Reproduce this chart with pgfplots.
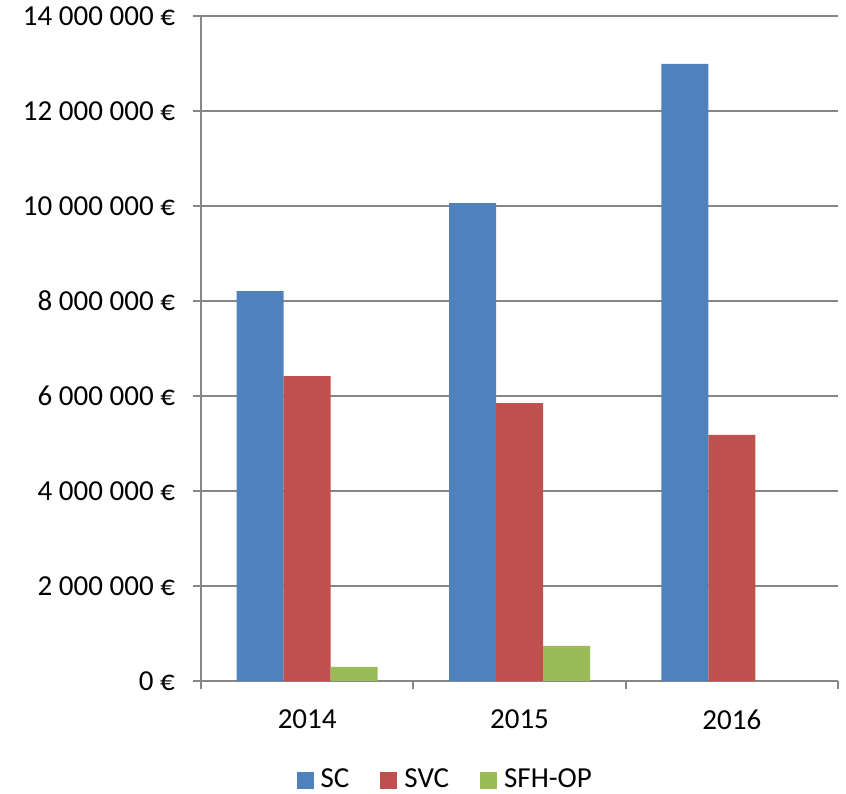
\documentclass[border=0pt]{standalone}
\usepackage{fontspec}
\setmainfont{Carlito}
\usepackage{pgfplots}
\pgfplotsset{compat=1.18}
\definecolor{scblue}{HTML}{4F81BD}
\definecolor{svcred}{HTML}{C0504D}
\definecolor{sfhgreen}{HTML}{9BBB59}
\definecolor{gridgray}{HTML}{868686}
\begin{document}
\fontsize{14.5}{17}\selectfont
\begin{tikzpicture}
\begin{axis}[
  at={(0,0)}, anchor=south west,
  scale only axis, width=318.5pt, height=332.5pt,
  xmin=-0.5, xmax=2.5, ymin=0, ymax=14000000,
  ybar=0pt, bar width=23.5pt,
  xtick={0,1,2}, xticklabels={2014,2015,2016},
  minor xtick={-0.5,0.5,1.5,2.5},
  major x tick style={draw=none},
  minor x tick style={gridgray, line width=1pt},
  ytick={0,2000000,4000000,6000000,8000000,10000000,12000000,14000000},
  yticklabels={0 €,2 000 000 €,4 000 000 €,6 000 000 €,8 000 000 €,10 000 000 €,12 000 000 €,14 000 000 €},
  major y tick style={gridgray, line width=1pt},
  tick align=outside, major tick length=4pt, minor tick length=4pt,
  ymajorgrids, grid style={gridgray, line width=1pt},
  axis x line*=bottom, axis y line*=left,
  axis line style={gridgray, line width=1pt},
  xticklabel style={yshift=-5.5pt},
  yticklabel style={xshift=-4pt},
  scaled y ticks=false,
  legend columns=3,
  legend style={draw=none, at={(axis description cs:0.14,-0.149)}, anchor=west,
    /tikz/every even column/.append style={column sep=12pt},
    nodes={inner xsep=3.5pt}},
]
\addplot[fill=scblue, draw=none, legend image code/.code={\fill[scblue] (0pt,-4.25pt) rectangle (8.5pt,4.25pt);}]
  coordinates {(0,8210000) (1,10060000) (2,12990000)};
\addplot[fill=svcred, draw=none, legend image code/.code={\fill[svcred] (0pt,-4.25pt) rectangle (8.5pt,4.25pt);}]
  coordinates {(0,6420000) (1,5850000) (2,5180000)};
\addplot[fill=sfhgreen, draw=none, legend image code/.code={\fill[sfhgreen] (0pt,-4.25pt) rectangle (8.5pt,4.25pt);}]
  coordinates {(0,295000) (1,737000)};
\legend{SC,SVC,SFH-OP}
\end{axis}
\pgfresetboundingbox
\path[use as bounding box] (-100.5pt,-56pt) rectangle (322.5pt,340.5pt);
\end{tikzpicture}
\end{document}
